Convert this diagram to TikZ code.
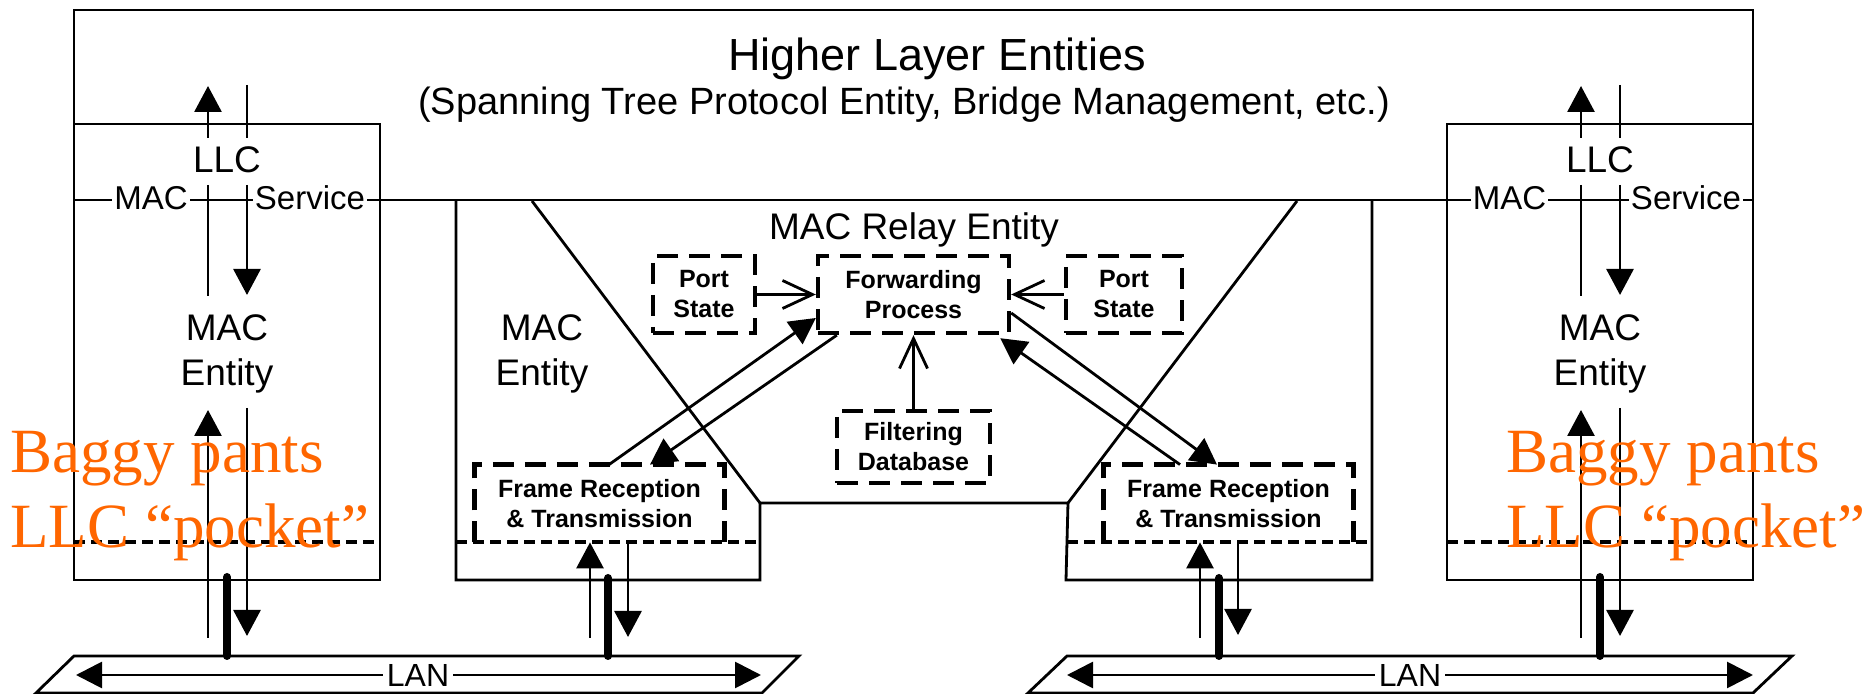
\documentclass[tikz,border=0pt]{standalone}
\usepackage{fontspec}
\setmainfont{Liberation Sans}
\newfontfamily\notefont{Liberation Serif}
\usetikzlibrary{arrows.meta,calc}
\definecolor{noteorange}{RGB}{255,102,0}
\tikzset{
  wire/.style={line width=1.4pt},
  flow/.style={wire,-{Triangle[length=13pt,width=13.5pt]}},
  ctl/.style={wire,-{Straight Barb[length=15pt,width=14pt]}},
  link/.style={line width=4pt,line cap=round},
  sepline/.style={line width=1.7pt,dash pattern=on 5.5pt off 3pt},
  dashedge/.style={line width=2.2pt,dash pattern=on 10.5pt off 5.5pt},
  fnbox/.style={inner sep=0pt,align=center,
    font=\bfseries\fontsize{12.5pt}{15pt}\selectfont},
  dbox/.style={fnbox,draw,dashedge},
  lbl/.style={inner sep=0pt,align=center,font=\fontsize{18.5pt}{22.5pt}\selectfont},
  svc/.style={fill=white,inner sep=1pt,font=\fontsize{16.5pt}{19pt}\selectfont},
  lan/.style={fill=white,inner sep=2pt,font=\fontsize{16pt}{19pt}\selectfont},
  note/.style={inner sep=0pt,anchor=base west,text=noteorange,
    font=\notefont\fontsize{31.5pt}{37.5pt}\selectfont},
}
\begin{document}
\begin{tikzpicture}[x=0.5pt,y=-0.5pt]
\useasboundingbox (0,0) rectangle (1875,694);

% higher layer box, end-station boxes and bridge outline
\draw[wire] (74,10) rectangle (1753,200);
\draw[wire] (74,124) rectangle (380,580);
\draw[wire] (1447,124) rectangle (1753,580);
\draw[wire] (456,200) -- (456,580) -- (760,580) -- (760,503) -- (1068,503)
  -- (1066,580) -- (1372,580) -- (1372,200);
\draw[wire] (532,201) -- (760,503);
\draw[wire] (1297,201) -- (1068,503);

% LLC pocket boundaries
\foreach \a/\b in {74/380,456/760,1067/1372,1447/1753}
  \draw[sepline] (\a,542) -- (\b,542);

% titles
\node[anchor=base,inner sep=0pt,font=\fontsize{22.5pt}{26pt}\selectfont] (hle) at (937,71) {Higher Layer Entities};
\node[anchor=base,inner sep=0pt,font=\fontsize{19pt}{22pt}\selectfont] (hlx) at (904,115)
  {(Spanning Tree Protocol Entity, Bridge Management, etc.)};
\node[anchor=base,lbl] (relay) at (914,240) {MAC Relay Entity};

% relay functions
\node[dbox,minimum width=51pt,minimum height=38.5pt] (portL) at (704,294.5) {Port\\State};
\node[dbox,minimum width=95.5pt,minimum height=38.5pt] (fwd) at (913.5,294.5) {Forwarding\\Process};
\node[dbox,minimum width=58pt,minimum height=38.5pt] (portR) at (1124,294.5) {Port\\State};
\node[dbox,minimum width=76.5pt,minimum height=36pt] (fdb) at (913.5,447) {Filtering\\Database};
\node[fnbox,minimum width=124.5pt,minimum height=38.5pt] (frL) at (599.5,503.5) {Frame Reception\\\& Transmission};
\node[fnbox,minimum width=124.5pt,minimum height=38.5pt] (frR) at (1228.5,503.5) {Frame Reception\\\& Transmission};
\draw[dashedge] (frL.south west) -- (frL.north west) -- (frL.north east) -- (frL.south east);
\draw[dashedge] (frR.south west) -- (frR.north west) -- (frR.north east) -- (frR.south east);

\draw[ctl] (portL.east) -- (fwd.west);
\draw[ctl] (portR.west) -- (fwd.east);
\draw[ctl] (fdb.north) -- (fwd.south);
\draw[flow] ($(frL.north)+(9.5,0)$) -- ($(fwd.west)+(0,23.5)$);
\draw[flow] ($(fwd.south west)+(21,0)$) -- ($(frL.north)+(50.5,0)$);
\draw[flow] ($(fwd.east)+(0,18.5)$) -- ($(frR.north)+(-11.5,0)$);
\draw[flow] ($(frR.north)+(-48.5,0)$) -- ($(fwd.south east)+(-11,3)$);

% bridge ports to the LANs
\draw[flow] (590,638) -- ($(frL.south)+(-9.5,0)$);
\draw[flow] ($(frL.south)+(28.5,0)$) -- (628,637);
\draw[link] (608,578) -- (608,656);
\draw[flow] (1200,638) -- ($(frR.south)+(-28.5,0)$);
\draw[flow] ($(frR.south)+(9.5,0)$) -- (1238,635);
\draw[link] (1219,578) -- (1219,656);

% MAC entity labels
\node[lbl] (macL) at (227,354) {MAC\\Entity};
\node[lbl] (macM) at (542,354) {MAC\\Entity};
\node[lbl] (macR) at (1600,354) {MAC\\Entity};

% end stations
\foreach \c in {227,1600} {
  \draw[flow] (\c-19,138) -- (\c-19,86);
  \draw[wire] (\c+20,85) -- (\c+20,138);
  \draw[wire] (\c-19,185) -- (\c-19,296);
  \draw[flow] (\c+20,185) -- (\c+20,295);
  \draw[flow] (\c-19,638) -- (\c-19,410);
  \draw[flow] (\c+20,408) -- (\c+20,636);
  \draw[link] (\c,577) -- (\c,656);
  \node[anchor=base,lbl] at (\c,173) {LLC};
}
\node[svc] (svcLm) at (151,198) {MAC};
\node[svc] (svcLs) at (310,198) {Service};
\node[svc] (svcRm) at (1509.5,198) {MAC};
\node[svc] (svcRs) at (1686,198) {Service};

% LANs
\draw[wire] (36,693) -- (74,656) -- (799,656) -- (762,693) -- cycle;
\draw[wire] (1028,693) -- (1067,656) -- (1792,656) -- (1753,693) -- cycle;
\draw[wire,{Triangle[length=13pt,width=13pt]}-{Triangle[length=13pt,width=13pt]}] (76,675) -- (761,675);
\draw[wire,{Triangle[length=13pt,width=13pt]}-{Triangle[length=13pt,width=13pt]}] (1067,675) -- (1753,675);
\node[lan] (lanL) at (418,675) {LAN};
\node[lan] (lanR) at (1410,675) {LAN};

% annotations
\node[note] (bagL) at (10,473) {Baggy pants};
\node[note] (pocL) at (10,548) {LLC “pocket”};
\node[note] (bagR) at (1506,473) {Baggy pants};
\node[note] (pocR) at (1506,548) {LLC “pocket”};
\end{tikzpicture}
\end{document}
